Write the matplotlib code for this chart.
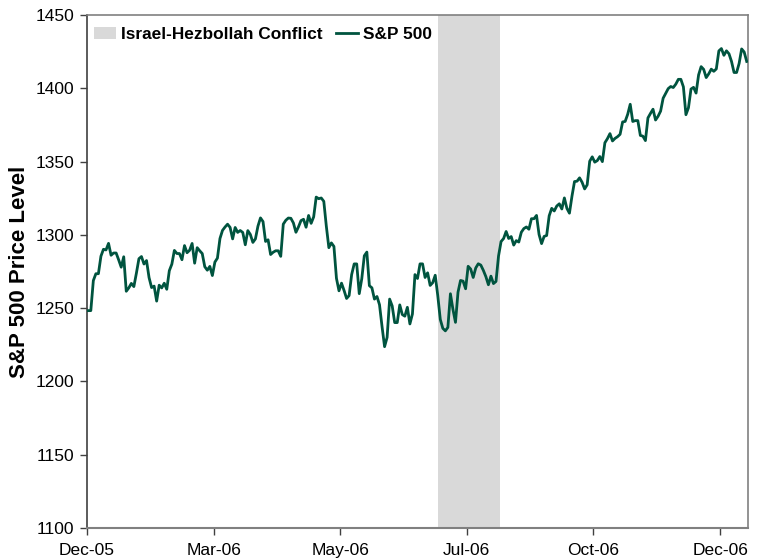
import matplotlib
matplotlib.use("Agg")
import matplotlib.pyplot as plt
from matplotlib.patches import Patch
from matplotlib.lines import Line2D

plt.rcParams['font.family'] = ['Liberation Sans', 'DejaVu Sans']

# Daily S&P 500 closes, weekdays from 30-Dec-2005 to 29-Dec-2006 (holidays carry previous close)
jan = [1248.29, 1248.29, 1268.80, 1273.46, 1273.48, 1285.45, 1290.15, 1289.69, 1294.18, 1286.06,
       1287.61, 1287.61, 1282.93, 1277.93, 1285.04, 1261.49, 1263.82, 1266.86, 1264.68, 1273.83,
       1283.72, 1285.19, 1280.08]
feb = [1282.46, 1270.84, 1264.03, 1265.02, 1254.78, 1265.65, 1263.78, 1266.99, 1262.86, 1275.53,
       1280.00, 1289.38, 1287.24, 1287.24, 1283.03, 1292.67, 1287.79, 1289.43, 1294.12, 1280.66]
mar = [1291.24, 1289.14, 1287.23, 1278.26, 1275.88, 1278.47, 1272.23, 1281.42, 1284.13, 1297.48,
       1303.02, 1305.33, 1307.25, 1305.08, 1297.23, 1305.04, 1301.67, 1302.95, 1301.61, 1293.23,
       1302.89, 1300.25, 1294.83]
apr = [1297.23, 1305.93, 1311.56, 1309.04, 1295.50, 1296.62, 1286.57, 1288.12, 1289.12, 1289.12,
       1285.33, 1307.28, 1309.93, 1311.46, 1311.28, 1308.11, 1301.74, 1305.41, 1309.72, 1310.61]
may = [1305.19, 1313.21, 1307.85, 1312.25, 1325.76, 1324.66, 1325.14, 1322.85, 1305.92, 1291.24,
       1294.50, 1292.08, 1270.32, 1261.81, 1267.03, 1262.07, 1256.58, 1258.57, 1272.88, 1280.16,
       1280.16, 1259.87, 1270.09]
jun = [1285.71, 1288.22, 1265.29, 1263.85, 1256.15, 1257.93, 1252.30, 1237.44, 1223.69, 1230.04,
       1256.16, 1251.54, 1240.13, 1240.12, 1252.20, 1245.60, 1244.50, 1250.56, 1239.20, 1246.00,
       1272.87, 1270.20]
jul = [1280.19, 1280.19, 1270.91, 1274.08, 1265.48, 1267.34, 1272.43, 1258.60, 1242.28, 1236.20,
       1234.49, 1236.86, 1259.81, 1249.13, 1240.29, 1260.91, 1268.88, 1268.40, 1263.20, 1278.55,
       1276.66]
aug = [1270.92, 1277.41, 1280.27, 1279.36, 1275.77, 1271.48, 1265.95, 1271.81, 1266.74, 1268.21,
       1285.58, 1295.43, 1297.48, 1302.30, 1297.52, 1298.82, 1292.99, 1296.06, 1295.09, 1301.78,
       1304.28, 1305.37, 1303.82]
sep = [1311.01, 1311.01, 1313.25, 1300.26, 1294.02, 1298.92, 1299.54, 1313.00, 1318.07, 1316.28,
       1319.66, 1321.18, 1317.64, 1325.18, 1318.03, 1314.78, 1326.37, 1336.35, 1336.59, 1338.88,
       1335.85]
oct_ = [1331.32, 1334.11, 1350.20, 1353.22, 1349.59, 1350.66, 1353.42, 1349.95, 1362.83, 1365.62,
        1369.06, 1364.05, 1365.80, 1366.96, 1368.60, 1377.02, 1377.38, 1382.22, 1389.08, 1377.34,
        1377.93, 1377.94]
nov = [1367.81, 1367.34, 1364.30, 1379.78, 1382.84, 1385.72, 1378.33, 1380.90, 1384.42, 1393.22,
       1396.57, 1399.76, 1401.20, 1400.50, 1402.81, 1406.09, 1406.09, 1400.95, 1381.96, 1386.72,
       1399.48, 1400.63]
dec = [1396.71, 1409.12, 1414.76, 1412.90, 1407.29, 1409.84, 1413.04, 1411.56, 1413.21, 1425.49,
       1427.09, 1422.48, 1425.55, 1423.53, 1418.30, 1410.76, 1410.76, 1416.90, 1426.84, 1424.73,
       1418.30]
spx = jan + feb + mar + apr + may + jun + jul + aug + sep + oct_ + nov + dec

tick_labels = ['Dec-05', 'Mar-06', 'May-06', 'Jul-06', 'Oct-06', 'Dec-06']
tick_every = 50
conflict_start, conflict_end = 138, 161   # 12-Jul-2006 .. 14-Aug-2006 (weekday index)

line_color = '#00543F'
shade_color = '#D9D9D9'

fig = plt.figure(figsize=(7.70, 5.59), dpi=100)
ax = fig.add_axes([0.113, 0.0555, 0.8584, 0.9177])

ax.axvspan(conflict_start - 0.1, conflict_end + 1.5, color=shade_color, lw=0, zorder=1)
x = list(range(len(spx)))
ax.plot(x, spx, color=line_color, lw=2.0, zorder=3, solid_joinstyle='round')

ax.set_xlim(-0.5, len(spx) - 0.5)
ax.set_ylim(1100, 1450)
ax.set_yticks(range(1100, 1451, 50))
ax.set_xticks([-0.5 + tick_every * i for i in range(len(tick_labels))])
ax.set_xticklabels(tick_labels)

ax.tick_params(axis='both', direction='out', length=5, width=1, color='#404040',
               labelsize=12.5, pad=4)
ax.tick_params(axis='x', pad=6)
for s in ['top', 'right']:
    ax.spines[s].set_color('#808080')
    ax.spines[s].set_linewidth(1.2)
ax.spines['left'].set_color('#404040')
ax.spines['bottom'].set_color('#808080')
ax.spines['left'].set_linewidth(1.2)
ax.spines['bottom'].set_linewidth(1.5)

ax.set_ylabel('S&P 500 Price Level', fontsize=16, fontweight='bold', labelpad=4)

handles = [Patch(facecolor=shade_color, edgecolor='none', label='Israel-Hezbollah Conflict'),
           Line2D([0], [0], color=line_color, lw=2.0, label='S&P 500')]
leg = ax.legend(handles=handles, loc='upper left', ncol=2, frameon=False,
                bbox_to_anchor=(0.0, 0.99), prop={'weight': 'bold', 'size': 12.4},
                handlelength=1.3, handletextpad=0.25, columnspacing=0.8, borderaxespad=0.0)

fig.savefig('out.png', dpi=100)
